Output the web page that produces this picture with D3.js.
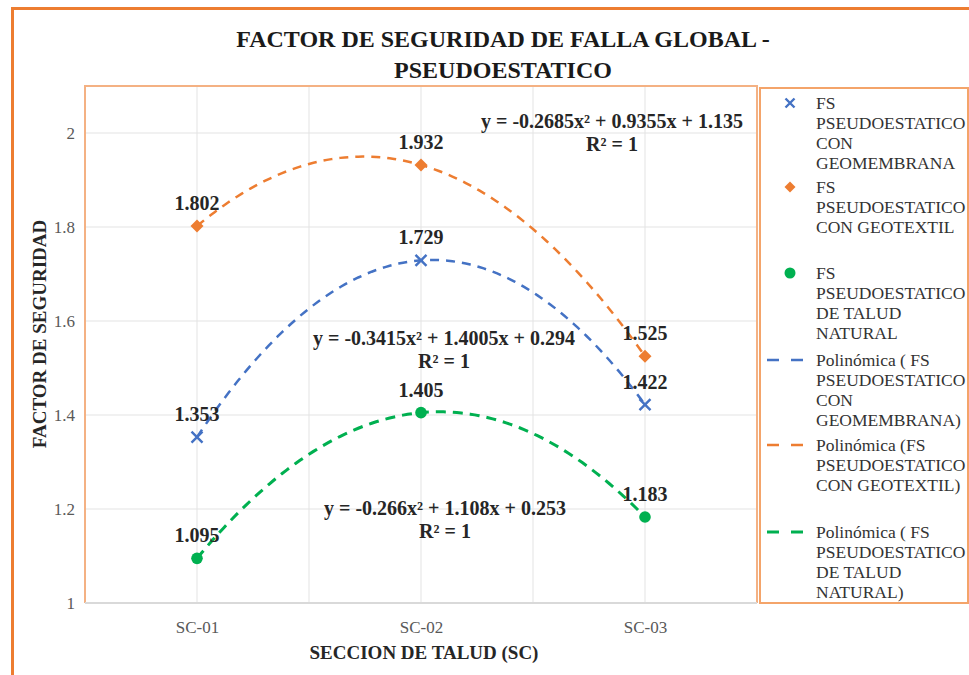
<!DOCTYPE html>
<html>
<head>
<meta charset="utf-8">
<script src="https://cdn.jsdelivr.net/npm/d3@7"></script>
<style>
  html, body { margin: 0; padding: 0; background: #fff; }
  svg { display: block; }
  svg text { font-family: "Liberation Serif", "Times New Roman", Tinos, "DejaVu Serif", serif !important; }
</style>
</head>
<body>
<svg id="chart" width="969" height="675"></svg>
<script>
// Slope sections and the safety factor measured at each one
const categories = ["SC-01", "SC-02", "SC-03"];
const xPositions = [1, 2, 3];
const fsGeomembrana = [1.353, 1.729, 1.422];
const fsGeotextil = [1.802, 1.932, 1.525];
const fsNatural = [1.095, 1.405, 1.183];

// Second-order polynomial trendlines: [a, b, c] for y = a x^2 + b x + c
const fitGeomembrana = [-0.3415, 1.4005, 0.294];
const fitGeotextil = [-0.2685, 0.9355, 1.135];
const fitNatural = [-0.266, 1.108, 0.253];

const eqGeomembrana = "y = -0.3415x² + 1.4005x + 0.294";
const eqGeotextil = "y = -0.2685x² + 0.9355x + 1.135";
const eqNatural = "y = -0.266x² + 1.108x + 0.253";
const r2Text = "R² = 1";

const yTicks = [1, 1.2, 1.4, 1.6, 1.8, 2];
const xGrid = [0.5, 1, 1.5, 2, 2.5, 3, 3.5];

const titleLines = ["FACTOR DE SEGURIDAD DE FALLA GLOBAL -", "PSEUDOESTATICO"];
const xTitle = "SECCION DE TALUD (SC)";
const yTitle = "FACTOR DE SEGURIDAD";

const legendMarkers = [
  ["FS", "PSEUDOESTATICO", "CON", "GEOMEMBRANA"],
  ["FS", "PSEUDOESTATICO", "CON GEOTEXTIL"],
  ["FS", "PSEUDOESTATICO", "DE TALUD", "NATURAL"]
];
const legendTrends = [
  ["Polinómica ( FS", "PSEUDOESTATICO", "CON", "GEOMEMBRANA)"],
  ["Polinómica (FS", "PSEUDOESTATICO", "CON GEOTEXTIL)"],
  ["Polinómica ( FS", "PSEUDOESTATICO", "DE TALUD", "NATURAL)"]
];

const BLUE = "#4472C4", ORANGE = "#ED7D31", GREEN = "#00B050";
const SERIF = "'Liberation Serif', 'Times New Roman', Tinos, 'DejaVu Serif', serif";

const svg = d3.select("#chart").attr("font-family", SERIF);
const plot = { left: 85, right: 757, top: 86, bottom: 603 };

const x = d3.scaleLinear().domain([0.5, 3.5]).range([plot.left, plot.right]);
const y = d3.scaleLinear().domain([1, 2.1]).range([plot.bottom, plot.top]);

// Marker shapes
const xMark = h => `M${-h},${-h}L${h},${h}M${-h},${h}L${h},${-h}`;
const diamond = h => `M0,${-h}L${h},0L0,${h}L${-h},0Z`;

// Outer chart frame
svg.append("rect")
  .attr("x", 12.5).attr("y", 8.5).attr("width", 1000).attr("height", 700)
  .attr("fill", "#fff").attr("stroke", ORANGE).attr("stroke-width", 3);

// Title
svg.append("g").selectAll("text").data(titleLines).join("text")
  .attr("x", 503).attr("y", (d, i) => 47 + i * 31)
  .attr("text-anchor", "middle")
  .attr("font-size", 24).attr("font-weight", "bold").attr("fill", "#1a1a1a")
  .text(d => d);

// Gridlines
const grid = svg.append("g");
grid.selectAll("line.h").data(yTicks.slice(1)).join("line")
  .attr("x1", plot.left).attr("x2", plot.right)
  .attr("y1", d => y(d)).attr("y2", d => y(d))
  .attr("stroke", "#e3e3e3").attr("stroke-width", 1);
grid.selectAll("line.v").data(xGrid.slice(1, -1)).join("line")
  .attr("y1", plot.top).attr("y2", plot.bottom)
  .attr("x1", d => x(d)).attr("x2", d => x(d))
  .attr("stroke", "#e3e3e3").attr("stroke-width", 1);

// Plot area border (left, top, right) and bottom axis line
svg.append("path")
  .attr("d", `M${plot.left},${plot.bottom}V${plot.top}H${plot.right}V${plot.bottom}`)
  .attr("fill", "none").attr("stroke", "#F4B183").attr("stroke-width", 2);
svg.append("line")
  .attr("x1", plot.left).attr("x2", plot.right)
  .attr("y1", plot.bottom).attr("y2", plot.bottom)
  .attr("stroke", "#d9d9d9").attr("stroke-width", 2);

// Axes
const yAxis = svg.append("g")
  .attr("transform", `translate(${plot.left - 7},0)`)
  .call(d3.axisLeft(y).tickValues(yTicks).tickSize(0).tickFormat(d3.format("")));
const xAxis = svg.append("g")
  .attr("transform", `translate(0,${plot.bottom + 14})`)
  .call(d3.axisBottom(x).tickValues(xPositions).tickSize(0).tickFormat((d, i) => categories[i]));
[yAxis, xAxis].forEach(a => {
  a.attr("font-family", SERIF);
  a.select(".domain").remove();
  a.selectAll("text").attr("font-size", 17).attr("fill", "#595959");
});
yAxis.selectAll("text").attr("dy", "0.35em");
xAxis.selectAll("text").attr("dy", "0.78em");

// Axis titles
svg.append("text")
  .attr("x", 424).attr("y", 659).attr("text-anchor", "middle")
  .attr("font-size", 19).attr("font-weight", "bold").attr("fill", "#262626")
  .text(xTitle);
svg.append("text")
  .attr("transform", "translate(46,334) rotate(-90)").attr("text-anchor", "middle")
  .attr("font-size", 19).attr("font-weight", "bold").attr("fill", "#262626")
  .text(yTitle);

// Trendlines
const poly = c => t => c[0] * t * t + c[1] * t + c[2];
const samples = d3.range(1, 3.0001, 0.02);
const line = d3.line().x(d => x(d[0])).y(d => y(d[1]));
const trends = [
  { fit: fitGeomembrana, color: BLUE, width: 2.5, dash: "9,7" },
  { fit: fitGeotextil, color: ORANGE, width: 2.5, dash: "9,7" },
  { fit: fitNatural, color: GREEN, width: 3, dash: "10,7" }
];
svg.append("g").selectAll("path").data(trends).join("path")
  .attr("d", t => line(samples.map(s => [s, poly(t.fit)(s)])))
  .attr("fill", "none").attr("stroke", t => t.color)
  .attr("stroke-width", t => t.width).attr("stroke-dasharray", t => t.dash);

// Markers
const pts = (vals) => vals.map((v, i) => ({ x: xPositions[i], v }));
svg.append("g").selectAll("path").data(pts(fsGeomembrana)).join("path")
  .attr("transform", d => `translate(${x(d.x)},${y(d.v)})`)
  .attr("d", xMark(5.5))
  .attr("fill", "none").attr("stroke", BLUE).attr("stroke-width", 2.4);
svg.append("g").selectAll("path").data(pts(fsGeotextil)).join("path")
  .attr("transform", d => `translate(${x(d.x)},${y(d.v)})`)
  .attr("d", diamond(6.5))
  .attr("fill", ORANGE);
svg.append("g").selectAll("circle").data(pts(fsNatural)).join("circle")
  .attr("cx", d => x(d.x)).attr("cy", d => y(d.v)).attr("r", 5.8)
  .attr("fill", GREEN);

// Data labels
const allPts = [...pts(fsGeomembrana), ...pts(fsGeotextil), ...pts(fsNatural)];
svg.append("g").selectAll("text").data(allPts).join("text")
  .attr("x", d => x(d.x)).attr("y", d => y(d.v) - 16)
  .attr("text-anchor", "middle")
  .attr("font-size", 20).attr("font-weight", "bold").attr("fill", "#262626")
  .text(d => d.v.toFixed(3));

// Trendline equations
const eqs = [
  { t: eqGeotextil, cx: 612, cy: 128 },
  { t: eqGeomembrana, cx: 444, cy: 345 },
  { t: eqNatural, cx: 445, cy: 515 }
];
const eqG = svg.append("g");
eqs.forEach(e => {
  eqG.append("text").attr("x", e.cx).attr("y", e.cy).attr("text-anchor", "middle")
    .attr("font-size", 20).attr("font-weight", "bold").attr("fill", "#262626").text(e.t);
  eqG.append("text").attr("x", e.cx).attr("y", e.cy + 23).attr("text-anchor", "middle")
    .attr("font-size", 20).attr("font-weight", "bold").attr("fill", "#262626").text(r2Text);
});

// Legend
const lg = svg.append("g");
lg.append("rect").attr("x", 760).attr("y", 88).attr("width", 208).attr("height", 515)
  .attr("fill", "#fff").attr("stroke", "#F4A46A").attr("stroke-width", 2);

const legendItems = [
  { lines: legendMarkers[0], y0: 103, kind: "x", color: BLUE },
  { lines: legendMarkers[1], y0: 187, kind: "diamond", color: ORANGE },
  { lines: legendMarkers[2], y0: 273, kind: "circle", color: GREEN },
  { lines: legendTrends[0], y0: 360, kind: "dash", color: BLUE, w: 2.5 },
  { lines: legendTrends[1], y0: 445, kind: "dash", color: ORANGE, w: 2.5 },
  { lines: legendTrends[2], y0: 532, kind: "dash", color: GREEN, w: 3 }
];
legendItems.forEach(it => {
  const cy = it.y0;
  if (it.kind === "x") {
    lg.append("path").attr("transform", `translate(790,${cy})`)
      .attr("d", xMark(4.5)).attr("fill", "none")
      .attr("stroke", it.color).attr("stroke-width", 2.4);
  } else if (it.kind === "diamond") {
    lg.append("path").attr("transform", `translate(790,${cy})`)
      .attr("d", diamond(5.5)).attr("fill", it.color);
  } else if (it.kind === "circle") {
    lg.append("circle").attr("cx", 790).attr("cy", cy).attr("r", 5.5).attr("fill", it.color);
  } else {
    lg.append("line").attr("x1", 767).attr("x2", 803).attr("y1", cy).attr("y2", cy)
      .attr("stroke", it.color).attr("stroke-width", it.w).attr("stroke-dasharray", "12,12");
  }
  lg.selectAll(null).data(it.lines).enter().append("text")
    .attr("x", 816).attr("y", (d, i) => cy + i * 20)
    .attr("dy", "0.35em")
    .attr("font-size", 17.5).attr("fill", "#333")
    .text(d => d);
});
</script>
</body>
</html>
